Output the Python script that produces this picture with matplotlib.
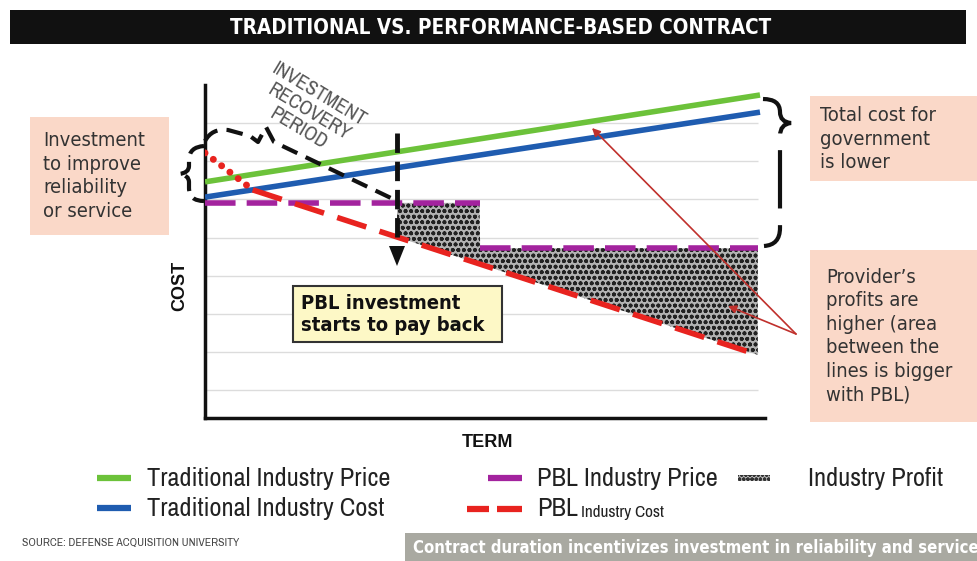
import numpy as np
import matplotlib
matplotlib.use("Agg")
import matplotlib.pyplot as plt
from matplotlib.path import Path
from matplotlib.patches import PathPatch, Rectangle, Polygon

# ---------------- data ----------------
trad_x = [0, 10.0]
trad_price = [6.46, 8.74]          # Traditional Industry Price
trad_cost = [6.06, 8.29]           # Traditional Industry Cost
pbl_price_x = [0, 4.95, 4.95, 9.96]
pbl_price_y = [5.91, 5.91, 4.72, 4.72]   # PBL Industry Price (step)
pbl_cost_x = [0, 0.86, 9.96]
pbl_cost_y = [7.22, 6.25, 1.92]          # PBL Industry Cost
payback_x = 3.46                          # investment starts to pay back
grid_levels = [1, 2, 3, 4, 5, 6, 7, 8]

title = "TRADITIONAL VS. PERFORMANCE-BASED CONTRACT"
legend_labels = ["Traditional Industry Price", "Traditional Industry Cost",
                 "PBL Industry Price", "PBL", "Industry Cost", "Industry Profit"]

GREEN = "#6cc23a"
BLUE = "#1f5cb0"
MAGENTA = "#a3239e"
RED = "#e8231f"
PEACH = "#fad8c8"
NARROW = ["Archivo Narrow", "DejaVu Sans"]
ARIAL = ["Liberation Sans", "DejaVu Sans"]
BODY = dict(family=["DejaVu Sans"], fontstretch="condensed")

W, H = 977, 561
fig = plt.figure(figsize=(W / 100, H / 100), dpi=100)
fig.patch.set_facecolor("white")

# main axes in pixel placement
L, R, T, B = 205, 765, 85, 418
ax = fig.add_axes([L / W, 1 - B / H, (R - L) / W, (B - T) / H])
ax.set_xlim(0, (R - L) / 55.5)
ax.set_ylim((428 - B) / 38.1, (428 - T) / 38.1)
for s in ["top", "right"]:
    ax.spines[s].set_visible(False)
for s in ["left", "bottom"]:
    ax.spines[s].set_linewidth(2.5)
    ax.spines[s].set_color("#111111")
ax.set_xticks([])
ax.set_yticks([])

ax.hlines(grid_levels, 0, pbl_cost_x[-1], colors="#dcdcdc", lw=1, zorder=1)

# profit area
xs = np.linspace(payback_x, pbl_cost_x[-1], 500)
upper = np.where(xs < pbl_price_x[1], pbl_price_y[0], pbl_price_y[2])
lower = np.interp(xs, pbl_cost_x, pbl_cost_y)
plt.rcParams["hatch.linewidth"] = 1.2
ax.fill_between(xs, lower, upper, facecolor="#b2b2b2", edgecolor="#222222",
                hatch="ooo", lw=0, zorder=2)

ax.plot(trad_x, trad_price, color=GREEN, lw=4, solid_capstyle="butt", zorder=4)
ax.plot(trad_x, trad_cost, color=BLUE, lw=4, solid_capstyle="butt", zorder=4)
ax.plot(pbl_price_x[:2], pbl_price_y[:2], color=MAGENTA, lw=4,
        ls=(0, (5.5, 2)), dash_capstyle="butt", zorder=5)
ax.plot(pbl_price_x[2:], pbl_price_y[2:], color=MAGENTA, lw=4,
        ls=(0, (5.5, 2)), dash_capstyle="butt", zorder=5)
ax.plot(pbl_cost_x[:2], pbl_cost_y[:2], color=RED, lw=5,
        ls=(0, (0.01, 1.5)), dash_capstyle="round", zorder=5)
ax.plot(pbl_cost_x[1:], pbl_cost_y[1:], color=RED, lw=4,
        ls=(0, (5.5, 2.5)), dash_capstyle="butt", zorder=5)

# ---------------- overlay for annotations (pixel coords) ----------------
ov = fig.add_axes([0, 0, 1, 1], facecolor="none")
ov.set_xlim(0, W)
ov.set_ylim(H, 0)
ov.axis("off")

# title bar
ov.add_patch(Rectangle((10, 10), 956, 34, color="#111111", lw=0))
ov.text(501, 28, title, color="white", ha="center", va="center",
        fontsize=14.8, fontweight="heavy", **BODY)

# axis labels
ov.text(180, 286, "COST", rotation=90, ha="center", va="center",
        fontsize=13, fontweight="bold", family=ARIAL, color="#111")
ov.text(487, 442, "TERM", ha="center", va="center",
        fontsize=13, fontweight="bold", family=ARIAL, color="#111")

# boxes
ov.add_patch(Rectangle((30, 117), 139, 118, color=PEACH, lw=0))
ov.text(43, 176, "Investment\nto improve\nreliability\nor service", ha="left",
        va="center", fontsize=14.5, color="#333", linespacing=1.3, **BODY)
ov.add_patch(Rectangle((810, 96), 167, 85, color=PEACH, lw=0))
ov.text(820, 139, "Total cost for\ngovernment\nis lower", ha="left",
        va="center", fontsize=14.5, color="#333", linespacing=1.3, **BODY)
ov.add_patch(Rectangle((810, 250), 167, 172, color=PEACH, lw=0))
ov.text(826, 336, "Provider\u2019s\nprofits are\nhigher (area\nbetween the\nlines is bigger\nwith PBL)",
        ha="left", va="center", fontsize=14.5, color="#333",
        linespacing=1.3, **BODY)

ov.add_patch(Rectangle((293, 286), 209, 56, facecolor="#fdf8c6",
                       edgecolor="#333", lw=1.5, zorder=6))
ov.text(301, 314, "PBL investment\nstarts to pay back", ha="left", va="center",
        fontsize=14.5, fontweight="bold", color="#111",
        linespacing=1.2, zorder=7, **BODY)

# investment recovery text
ov.text(309, 112, "INVESTMENT\nRECOVERY\nPERIOD", rotation=-31, ha="center",
        va="center", fontsize=14.5, family=NARROW, color="#555",
        linespacing=1.05, rotation_mode="anchor")

# left brace
lb = Path([(204, 146), (189, 147), (189, 160), (189, 166), (189, 173), (179, 174),
           (189, 175), (189, 182), (189, 188), (189, 201), (204, 201)],
          [Path.MOVETO, Path.CURVE3, Path.CURVE3, Path.LINETO, Path.CURVE3, Path.CURVE3,
           Path.CURVE3, Path.CURVE3, Path.LINETO, Path.CURVE3, Path.CURVE3])
ov.add_patch(PathPatch(lb, fill=False, lw=3, ls=(0, (4, 2)), ec="#111"))

# right brace
rb = Path([(763, 99), (780, 99), (780, 112), (780, 122), (791, 123),
           (780, 124), (780, 136), (780, 228), (780, 245), (764, 246)],
          [Path.MOVETO, Path.CURVE3, Path.CURVE3, Path.CURVE3, Path.CURVE3,
           Path.CURVE3, Path.CURVE3, Path.LINETO, Path.CURVE3, Path.CURVE3])
ov.add_patch(PathPatch(rb, fill=False, lw=3, ls=(0, (14, 4)), ec="#111"))

# investment recovery brace
ib = Path([(205, 141), (212, 128), (228, 130), (250, 136), (258, 142),
           (266, 127), (274, 142), (393, 199)],
          [Path.MOVETO, Path.CURVE3, Path.CURVE3, Path.LINETO, Path.LINETO,
           Path.LINETO, Path.LINETO, Path.LINETO])
ov.add_patch(PathPatch(ib, fill=False, lw=3, ls=(0, (4, 2.2)), ec="#111",
                       joinstyle="round"))

# payback vertical arrow
ov.plot([397, 397], [133, 250], color="#111", lw=3.5, ls=(0, (4, 1.8)))
ov.add_patch(Polygon([(389, 246), (405, 246), (397, 266)], closed=True,
                     color="#111", lw=0))

# thin red arrows
for tip in [(592, 128), (728, 306)]:
    ov.annotate("", xy=tip, xytext=(796, 334),
                arrowprops=dict(arrowstyle="-|>", color="#c0302c", lw=1.2,
                                mutation_scale=12, shrinkA=0, shrinkB=0))

# legend
ly1, ly2 = 478, 508
ov.plot([97, 131], [ly1, ly1], color=GREEN, lw=4.5, solid_capstyle="butt")
ov.plot([97, 131], [ly2, ly2], color=BLUE, lw=4.5, solid_capstyle="butt")
ov.plot([488, 522], [ly1, ly1], color=MAGENTA, lw=4.5, solid_capstyle="butt")
ov.plot([467, 489], [ly2 + 1, ly2 + 1], color=RED, lw=4.5, solid_capstyle="butt")
ov.plot([497, 522], [ly2 + 1, ly2 + 1], color=RED, lw=4.5, solid_capstyle="butt")
ov.add_patch(Rectangle((738, 475), 32, 6, facecolor="#bbb", edgecolor="#333",
                       hatch="oooo", lw=0))
LFS = 19
ov.text(147, ly1, legend_labels[0], ha="left", va="center", fontsize=LFS,
        family=NARROW, color="#222")
ov.text(147, ly2, legend_labels[1], ha="left", va="center", fontsize=LFS,
        family=NARROW, color="#222")
ov.text(537, ly1, legend_labels[2], ha="left", va="center", fontsize=LFS,
        family=NARROW, color="#222")
ov.text(537, ly2 + 1, legend_labels[3], ha="left", va="center", fontsize=LFS,
        family=NARROW, color="#222")
ov.text(581, ly2 + 4, legend_labels[4], ha="left", va="center", fontsize=12.4,
        family=NARROW, color="#222")
ov.text(808, ly1, legend_labels[5], ha="left", va="center", fontsize=LFS,
        family=NARROW, color="#222")

# footer
ov.text(22, 543, "SOURCE: DEFENSE ACQUISITION UNIVERSITY", ha="left", va="center",
        fontsize=8.4, family=NARROW, color="#444")
ov.add_patch(Rectangle((405, 533), 572, 28, color="#a9a9a1", lw=0))
ov.text(413, 548, "Contract duration incentivizes investment in reliability and service",
        ha="left", va="center", fontsize=12, fontweight="bold", color="white",
        **BODY)

fig.savefig("out.png", dpi=100)
